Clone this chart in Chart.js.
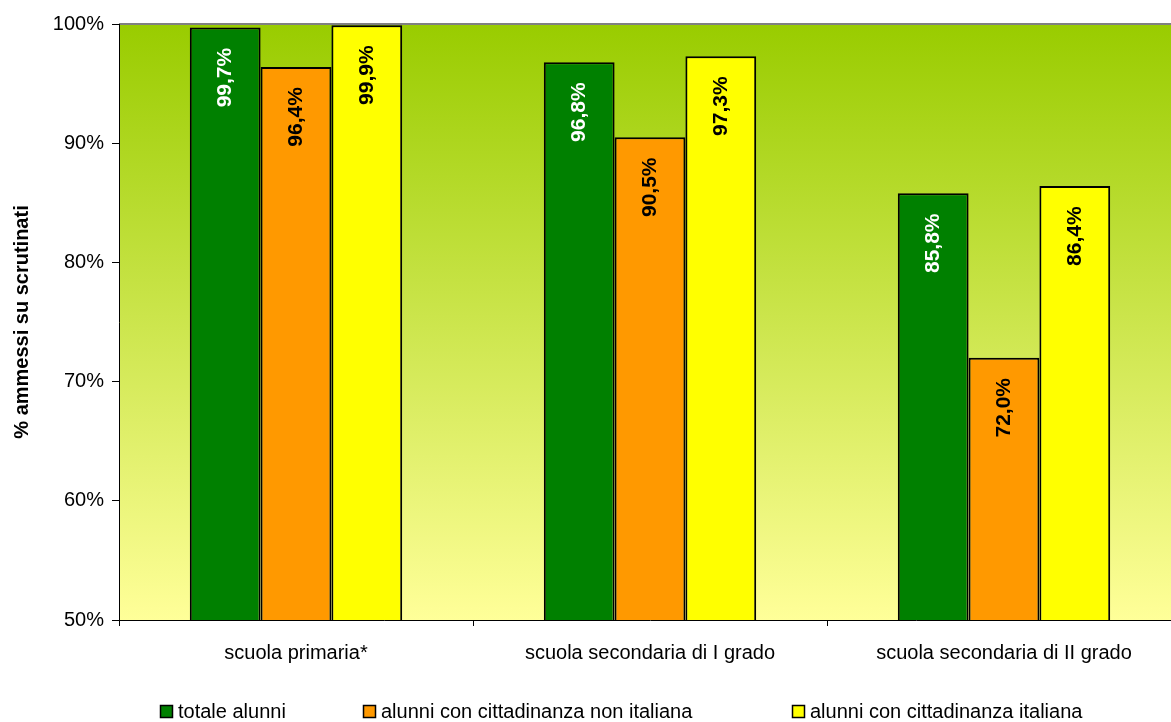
<!DOCTYPE html>
<html>
<head>
<meta charset="utf-8">
<script src="https://cdn.jsdelivr.net/npm/chart.js@4/dist/chart.umd.min.js"></script>
<style>
html,body{margin:0;padding:0;background:#fff;overflow:hidden;}
#wrap{width:1181px;height:722px;position:relative;}
</style>
</head>
<body>
<div id="wrap"><canvas id="c" width="1181" height="722"></canvas></div>
<script>
const categories = ["scuola primaria*", "scuola secondaria di I grado", "scuola secondaria di II grado"];
const seriesNames = ["totale alunni", "alunni con cittadinanza non italiana", "alunni con cittadinanza italiana"];
const totale = [99.7, 96.8, 85.8];
const nonItaliana = [96.4, 90.5, 72.0];
const italiana = [99.9, 97.3, 86.4];
const yTicks = [50, 60, 70, 80, 90, 100];

const FONT = "'Liberation Sans', Arial, sans-serif";

const bgPlugin = {
  id: 'bg',
  beforeDraw(chart) {
    const a = chart.chartArea, ctx = chart.ctx;
    const g = ctx.createLinearGradient(0, a.top, 0, a.bottom);
    g.addColorStop(0, '#99CC00');
    g.addColorStop(1, '#FFFF99');
    ctx.save();
    ctx.fillStyle = g;
    ctx.fillRect(a.left, a.top, a.right - a.left, a.bottom - a.top);
    ctx.strokeStyle = '#808080';
    ctx.lineWidth = 2;
    ctx.beginPath();
    ctx.moveTo(a.left, a.top);
    ctx.lineTo(a.right, a.top);
    ctx.stroke();
    ctx.restore();
  }
};

const labelPlugin = {
  id: 'vlabels',
  afterDatasetsDraw(chart) {
    const ctx = chart.ctx;
    ctx.save();
    ctx.font = "bold 21px " + FONT;
    ctx.textAlign = 'center';
    ctx.textBaseline = 'middle';
    chart.data.datasets.forEach((ds, di) => {
      const meta = chart.getDatasetMeta(di);
      meta.data.forEach((bar, i) => {
        const v = ds.data[i];
        const txt = v.toFixed(1).replace('.', ',') + '%';
        ctx.save();
        ctx.translate(bar.x, bar.y + 50);
        ctx.rotate(-Math.PI / 2);
        ctx.fillStyle = ds.labelColor;
        ctx.fillText(txt, 0, 0);
        ctx.restore();
      });
    });
    ctx.restore();
  }
};

const legendPlugin = {
  id: 'customLegend',
  afterDraw(chart) {
    const ctx = chart.ctx;
    const xs = [160, 363, 792];
    const y = 712;
    ctx.save();
    ctx.font = "20px " + FONT;
    ctx.textBaseline = 'middle';
    ctx.textAlign = 'left';
    chart.data.datasets.forEach((ds, i) => {
      ctx.fillStyle = ds.backgroundColor;
      ctx.fillRect(xs[i] + 0.5, y - 6.5, 12, 12);
      ctx.strokeStyle = '#000';
      ctx.lineWidth = 1.5;
      ctx.strokeRect(xs[i] + 0.5, y - 6.5, 12, 12);
      ctx.fillStyle = '#000';
      ctx.fillText(ds.label, xs[i] + 18, y);
    });
    ctx.restore();
  }
};

new Chart(document.getElementById('c'), {
  type: 'bar',
  data: {
    labels: categories,
    datasets: [
      { label: seriesNames[0], data: totale, backgroundColor: '#008000', labelColor: '#FFFFFF' },
      { label: seriesNames[1], data: nonItaliana, backgroundColor: '#FF9900', labelColor: '#000000' },
      { label: seriesNames[2], data: italiana, backgroundColor: '#FFFF00', labelColor: '#000000' }
    ].map(d => Object.assign(d, { borderColor: '#000', borderWidth: 2, borderSkipped: false, categoryPercentage: 0.6, barPercentage: 1.0 }))
  },
  options: {
    responsive: false,
    animation: false,
    devicePixelRatio: 1,
    layout: { padding: { top: 24, right: 0, bottom: 40, left: 0 } },
    plugins: { legend: { display: false }, tooltip: { enabled: false } },
    scales: {
      x: {
        grid: { display: true, drawOnChartArea: false, drawTicks: true, tickLength: 6, color: '#000', offset: true },
        border: { display: true, color: '#000', width: 1 },
        ticks: { color: '#000', font: { family: FONT, size: 20 }, padding: 15, maxRotation: 0 },
        afterFit(s) { s.height = 62; }
      },
      y: {
        min: 50, max: 100,
        afterBuildTicks(s) { s.ticks = yTicks.map(v => ({ value: v })); },
        grid: { display: true, drawOnChartArea: false, drawTicks: true, tickLength: 7, color: '#000' },
        border: { display: true, color: '#000', width: 1 },
        ticks: { color: '#000', font: { family: FONT, size: 20 }, padding: 8, callback: v => v + '%' },
        title: { display: true, text: '% ammessi su scrutinati', color: '#000', font: { family: FONT, size: 20, weight: 'bold' }, padding: { top: 10, bottom: 0 } },
        afterFit(s) { s.width = 119; }
      }
    }
  },
  plugins: [bgPlugin, labelPlugin, legendPlugin]
});
</script>
</body>
</html>
